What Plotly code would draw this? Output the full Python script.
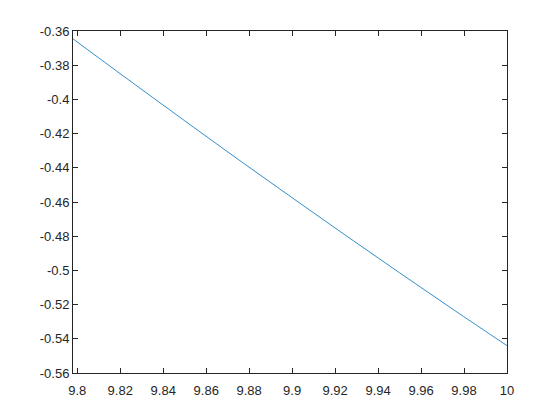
import plotly.graph_objects as go

x_vals = [9.798, 9.82, 9.85, 9.875, 9.9, 9.925, 9.95, 9.975, 10.0]
y_vals = [-0.3646, -0.3850, -0.4125, -0.4352, -0.4575, -0.4796, -0.5014, -0.5229, -0.5440]
x_ticks = [9.8, 9.82, 9.84, 9.86, 9.88, 9.9, 9.92, 9.94, 9.96, 9.98, 10]
x_labels = ["9.8", "9.82", "9.84", "9.86", "9.88", "9.9", "9.92", "9.94", "9.96", "9.98", "10"]
y_ticks = [-0.56, -0.54, -0.52, -0.5, -0.48, -0.46, -0.44, -0.42, -0.4, -0.38, -0.36]
y_labels = ["-0.56", "-0.54", "-0.52", "-0.5", "-0.48", "-0.46", "-0.44", "-0.42", "-0.4", "-0.38", "-0.36"]

fig = go.Figure()
fig.add_trace(go.Scatter(x=x_vals, y=y_vals, mode="lines", line_shape="spline",
                         line=dict(color="#0072BD", width=0.8), showlegend=False))

axis_common = dict(showgrid=False, zeroline=False, showline=True, linecolor="#262626",
                   linewidth=1, mirror="ticks", ticks="inside", ticklen=5,
                   tickcolor="#262626", tickwidth=1,
                   tickfont=dict(family="Liberation Sans, Arial", size=13, color="#262626"))

fig.update_layout(
    width=560, height=420,
    margin=dict(l=65, r=61, t=23, b=55),
    paper_bgcolor="white", plot_bgcolor="white",
    xaxis=dict(range=[9.798, 10.0], tickvals=x_ticks, ticktext=x_labels,
               ticklabelstandoff=5, **axis_common),
    yaxis=dict(range=[-0.56, -0.36], tickvals=y_ticks, ticktext=y_labels, **axis_common),
)

fig.write_html("out.html")
